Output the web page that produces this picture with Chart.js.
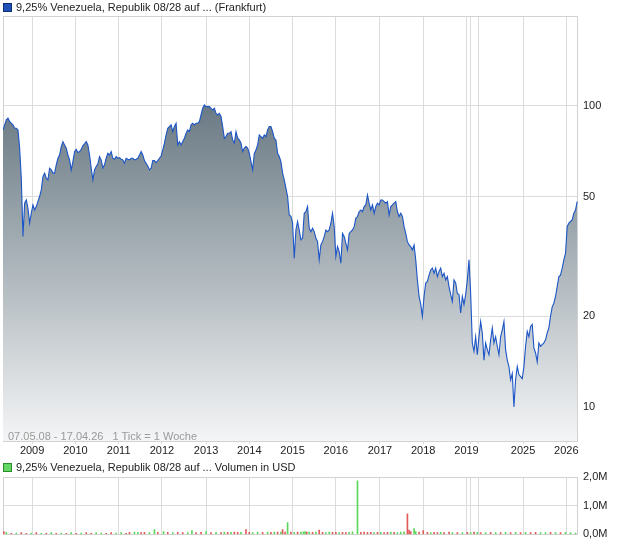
<!DOCTYPE html>
<html>
<head>
<meta charset="utf-8">
<script src="https://cdn.jsdelivr.net/npm/chart.js@4.4.1/dist/chart.umd.min.js"></script>
<style>
    body { margin: 0; background: #fff; font-family: "Liberation Sans", Arial, sans-serif; }
    #wrap { position: relative; width: 620px; height: 546px; overflow: hidden; }
    canvas { position: absolute; left: 0; }
    .title { position: absolute; left: 3px; font-size: 11px; color: #222; white-space: nowrap; line-height: 13px; }
    .title i { display: inline-block; width: 7px; height: 7px; margin-right: 4px; vertical-align: -1px; }
    #range { position: absolute; left: 8px; top: 430px; font-size: 11px; color: #9a9a9a; white-space: nowrap; }
</style>
</head>
<body>
<div id="wrap">
    <canvas id="priceChart" width="620" height="458" style="top:0"></canvas>
    <canvas id="volumeChart" width="620" height="91" style="top:455px"></canvas>
    <div class="title" style="top:1px"><i style="background:#1f52b4;border:1px solid #0c2f78"></i>9,25% Venezuela, Republik 08/28 auf ... (Frankfurt)</div>
    <div class="title" style="top:461px"><i style="background:#62d862;border:1px solid #2a8c2a"></i>9,25% Venezuela, Republik 08/28 auf ... Volumen in USD</div>
    <div id="range">07.05.08 - 17.04.26 &nbsp; 1 Tick = 1 Woche</div>
</div>
<script>
// one quote every second week, starting 07.05.08
const weekStep = 2;
const prices = [
    83.2, 86.5, 89.9, 91.0, 88.7, 87.6, 86.5, 84.3, 84.3, 83.2,
    72.4, 57.5, 36.8, 47.5, 48.7, 45.7, 40.8, 44.0, 46.9, 45.1,
    46.3, 48.2, 50.0, 52.6, 58.2, 59.8, 57.5, 56.8, 62.1, 61.3,
    59.8, 59.8, 63.7, 67.0, 68.7, 73.3, 76.1, 74.2, 72.4, 68.7,
    66.2, 61.3, 65.3, 70.5, 71.8, 70.0, 70.5, 71.8, 73.7, 74.8,
    76.1, 74.2, 68.7, 62.1, 56.8, 61.3, 62.9, 64.2, 67.9, 66.2,
    62.1, 63.7, 67.0, 69.6, 68.7, 70.5, 67.0, 66.5, 67.9, 67.0,
    67.3, 66.5, 66.2, 64.5, 67.0, 66.5, 66.2, 67.0, 67.0, 66.2,
    66.5, 67.0, 68.7, 70.5, 68.7, 65.8, 64.5, 63.2, 61.3, 62.1,
    65.8, 65.8, 64.8, 65.8, 67.0, 68.2, 71.4, 75.2, 80.1, 84.3,
    85.4, 86.5, 82.2, 85.4, 87.6, 74.2, 76.1, 74.2, 76.1, 78.1,
    81.1, 83.2, 82.2, 86.5, 87.6, 86.5, 87.6, 87.6, 88.7, 93.3,
    98.2, 100.8, 99.5, 99.5, 99.5, 98.2, 97.0, 98.2, 94.5, 93.3,
    94.5, 92.2, 85.4, 78.1, 79.1, 81.1, 81.1, 82.2, 77.1, 75.2,
    82.2, 78.1, 77.1, 75.2, 70.5, 72.4, 73.3, 72.4, 69.6, 65.3,
    61.3, 69.6, 71.4, 74.2, 80.1, 79.1, 78.1, 80.1, 79.1, 83.2,
    85.4, 85.4, 82.2, 78.1, 77.1, 69.6, 67.9, 65.3, 59.8, 56.8,
    53.3, 50.0, 43.4,
    43.0, 40.8, 31.2, 38.7, 41.3, 38.7, 35.9, 36.4, 44.0, 44.5,
    46.3, 39.2, 38.2, 39.2, 38.2, 36.4, 35.4, 30.8, 34.5, 35.4,
    36.8, 38.7, 38.2, 38.7, 40.8, 44.0, 39.7, 31.6, 34.1, 32.8,
    30.0, 37.7, 36.8, 35.0, 33.2, 37.7, 38.2, 38.7, 39.7, 42.3,
    42.9, 44.5, 45.1, 44.5, 46.3, 46.9, 50.6, 47.5, 45.1, 46.9,
    44.0, 46.3, 47.5, 46.9, 48.7, 48.7, 48.1, 47.5, 48.1, 43.4,
    46.3, 46.9, 47.5, 48.1, 44.5, 42.9, 44.0, 42.9, 39.7, 37.7,
    35.4, 34.5, 34.1, 33.2, 34.5, 30.8, 26.4, 23.3, 21.9, 20.0,
    23.3, 25.8, 26.1, 27.4, 28.5, 28.9, 27.8, 28.9, 27.1, 28.2,
    28.9, 27.1, 27.8, 26.4, 27.1, 25.1, 23.6, 22.4, 26.4, 25.8,
    23.8, 23.6, 20.5, 23.3, 21.9, 23.6, 26.4, 30.8, 23.8, 16.3,
    15.3, 17.1, 14.9, 17.1, 19.2, 17.6, 14.3, 16.3, 15.5, 14.9,
    16.7, 18.3, 16.3, 17.1, 15.9, 14.9, 17.1, 18.0, 19.2, 15.5,
    14.3, 13.6, 12.3, 12.9, 10.0, 12.3, 13.6, 12.8, 12.6, 12.4,
    13.6, 15.9, 17.8, 17.1, 18.5, 18.8, 15.7, 15.1, 14.1, 16.3,
    15.9, 16.1, 16.3, 16.7, 17.6, 18.3, 20.0, 21.5, 22.1, 23.3,
    25.1, 27.1, 27.4, 28.9, 30.8, 32.4, 39.7, 40.8, 41.3, 41.8,
    44.0, 45.1, 48.1
];

// year starts, counted in traded weeks (2020-2023 almost without trades)
const yearLabels = ['2009', '2010', '2011', '2012', '2013', '2014', '2015', '2016', '2017', '2018', '2019', '2020', '2024', '2025', '2026'];
const yearWeeks = [35, 87, 139, 191, 244, 296, 348, 400, 453, 505, 557, 562, 572, 625, 677];
const lastWeek = 691;

const priceTicks = [10, 20, 50, 100];
const volumeTicks = [0, 1, 2];
const volumeTickLabels = ['0,0M', '1,0M', '2,0M'];

// volume in million USD, 1 = up week (green), 0 = down week (red)
const volWeeks = [
    1, 4, 10, 16, 22, 28, 34, 40, 46, 52,
    58, 64, 70, 76, 82, 88, 94, 100, 106, 112,
    118, 124, 130, 136, 142, 148, 152, 158, 162, 166,
    170, 176, 182, 186, 193, 198, 204, 210, 216, 222,
    227, 232, 238, 244, 250, 256, 262, 266, 270, 274,
    278, 282, 286, 292, 296, 300, 306, 312, 318, 322,
    326, 330, 334, 336, 339, 342, 346, 350, 354, 358,
    361, 363, 365, 368, 372, 376, 380, 384, 388, 392,
    396, 400, 404, 408, 412, 416, 420, 426, 430, 434,
    438, 442, 446, 450, 454, 458, 462, 466, 470, 474,
    478, 482, 486, 488, 490, 494, 496, 500, 505, 510,
    514, 518, 522, 526, 530, 536, 540, 546, 552, 558,
    562, 566, 570, 574, 580, 586, 592, 598, 604, 610,
    616, 622, 628, 634, 640, 646, 652, 658, 664, 670,
    676, 682, 688
];
const volAmounts = [
    0.10, 0.07, 0.04, 0.05, 0.06, 0.04, 0.05, 0.06, 0.04, 0.05,
    0.06, 0.04, 0.05, 0.04, 0.06, 0.04, 0.05, 0.06, 0.04, 0.06,
    0.05, 0.04, 0.06, 0.05, 0.06, 0.04, 0.07, 0.08, 0.07, 0.06,
    0.07, 0.06, 0.17, 0.07, 0.10, 0.07, 0.06, 0.07, 0.06, 0.06,
    0.13, 0.06, 0.07, 0.10, 0.06, 0.07, 0.06, 0.08, 0.07, 0.07,
    0.08, 0.07, 0.07, 0.17, 0.07, 0.06, 0.08, 0.07, 0.08, 0.07,
    0.08, 0.08, 0.08, 0.17, 0.08, 0.41, 0.08, 0.07, 0.08, 0.08,
    0.09, 0.10, 0.08, 0.08, 0.07, 0.08, 0.15, 0.07, 0.06, 0.08,
    0.07, 0.07, 0.06, 0.07, 0.06, 0.07, 0.09, 1.87, 0.07, 0.08,
    0.07, 0.07, 0.06, 0.07, 0.07, 0.06, 0.07, 0.08, 0.07, 0.06,
    0.08, 0.09, 0.72, 0.15, 0.10, 0.20, 0.10, 0.08, 0.13, 0.07,
    0.06, 0.07, 0.06, 0.07, 0.06, 0.08, 0.06, 0.06, 0.06, 0.07,
    0.06, 0.08, 0.07, 0.06, 0.06, 0.07, 0.06, 0.06, 0.07, 0.06,
    0.07, 0.06, 0.07, 0.06, 0.07, 0.06, 0.06, 0.07, 0.06, 0.06,
    0.07, 0.06, 0.05
];
const volUp = [
    0, 1, 0, 1, 0, 0, 1, 0, 1, 0,
    1, 0, 1, 0, 1, 0, 1, 0, 0, 1,
    1, 0, 0, 1, 1, 0, 0, 1, 1, 0,
    0, 1, 1, 0, 1, 0, 1, 0, 0, 1,
    1, 0, 0, 1, 0, 1, 0, 1, 0, 1,
    0, 0, 1, 0, 0, 1, 1, 0, 1, 0,
    1, 0, 1, 0, 0, 1, 0, 1, 0, 1,
    1, 1, 0, 1, 0, 1, 0, 0, 1, 1,
    0, 0, 1, 0, 0, 1, 1, 1, 0, 0,
    0, 0, 1, 0, 1, 0, 0, 1, 0, 1,
    1, 1, 0, 0, 0, 1, 1, 0, 0, 0,
    1, 0, 0, 1, 0, 0, 1, 0, 1, 0,
    1, 0, 1, 0, 1, 0, 1, 0, 1, 0,
    1, 0, 1, 0, 0, 1, 1, 0, 1, 0,
    1, 1, 1
];

const gridColor = '#dcdcdc';
const font = { family: '"Liberation Sans", Arial, sans-serif', size: 11 };

// thin frame round the plot area
const framePlugin = {
    id: 'frame',
    beforeDatasetsDraw(chart) {
        const a = chart.chartArea;
        const ctx = chart.ctx;
        ctx.save();
        ctx.strokeStyle = '#d2d2d2';
        ctx.lineWidth = 1;
        ctx.strokeRect(Math.round(a.left) + 0.5, Math.round(a.top) + 0.5, Math.round(a.right - a.left) - 1, Math.round(a.bottom - a.top));
        ctx.restore();
    }
};

function yearAxis(showLabels) {
    return {
        type: 'linear',
        min: 0,
        max: lastWeek,
        offset: false,
        afterBuildTicks: scale => { scale.ticks = yearWeeks.map(w => ({ value: w })); },
        afterFit: scale => { scale.height = showLabels ? 17 : 0; },
        grid: { color: gridColor, tickLength: 3, drawTicks: showLabels, offset: false },
        border: { display: false },
        ticks: {
            display: showLabels,
            autoSkip: false,
            maxRotation: 0,
            padding: 0,
            color: '#222',
            font: font,
            callback: (value, i) => (i > 0 && yearWeeks[i] - yearWeeks[i - 1] < 20) ? '' : yearLabels[i]
        }
    };
}

new Chart(document.getElementById('priceChart'), {
    type: 'line',
    data: {
        datasets: [{
            data: prices.map((p, i) => ({ x: i * weekStep, y: p })),
            borderColor: '#1c55c6',
            borderWidth: 1.1,
            pointRadius: 0,
            tension: 0,
            fill: 'start',
            backgroundColor: ctx => {
                const chart = ctx.chart;
                const a = chart.chartArea;
                if (!a || !chart.scales.y) return 'rgba(0,0,0,0)';
                const g = chart.ctx.createLinearGradient(0, chart.scales.y.getPixelForValue(100), 0, a.bottom);
                g.addColorStop(0, '#6a7a84');
                g.addColorStop(1, '#f4f5f6');
                return g;
            }
        }]
    },
    options: {
        responsive: false,
        devicePixelRatio: 1,
        animation: false,
        layout: { padding: { left: 3, top: 16, right: 0, bottom: 0 } },
        plugins: { legend: { display: false }, tooltip: { enabled: false } },
        scales: {
            x: yearAxis(true),
            y: {
                type: 'logarithmic',
                position: 'right',
                min: 7.7,
                max: 199,
                afterBuildTicks: scale => { scale.ticks = priceTicks.map(v => ({ value: v })); },
                afterFit: scale => { scale.width = 42; },
                grid: { color: gridColor, drawTicks: false },
                border: { display: false },
                ticks: { padding: 5, color: '#222', font: font, callback: v => String(v) }
            }
        }
    },
    plugins: [framePlugin]
});

new Chart(document.getElementById('volumeChart'), {
    type: 'bar',
    data: {
        datasets: [{
            data: volWeeks.map((w, i) => ({ x: w, y: volAmounts[i] })),
            backgroundColor: volUp.map(u => u ? '#5cd65c' : '#e05a5a'),
            barThickness: 1,
            borderWidth: 0
        }]
    },
    options: {
        responsive: false,
        devicePixelRatio: 1,
        animation: false,
        layout: { padding: { left: 3, top: 22, right: 0, bottom: 10 } },
        plugins: { legend: { display: false }, tooltip: { enabled: false } },
        scales: {
            x: yearAxis(false),
            y: {
                position: 'right',
                min: 0,
                max: 2,
                afterBuildTicks: scale => { scale.ticks = volumeTicks.map(v => ({ value: v })); },
                afterFit: scale => { scale.width = 42; },
                grid: { color: gridColor, drawTicks: false },
                border: { display: false },
                ticks: { padding: 5, color: '#222', font: font, callback: (v, i) => volumeTickLabels[i] }
            }
        }
    },
    plugins: [framePlugin]
});
</script>
</body>
</html>
